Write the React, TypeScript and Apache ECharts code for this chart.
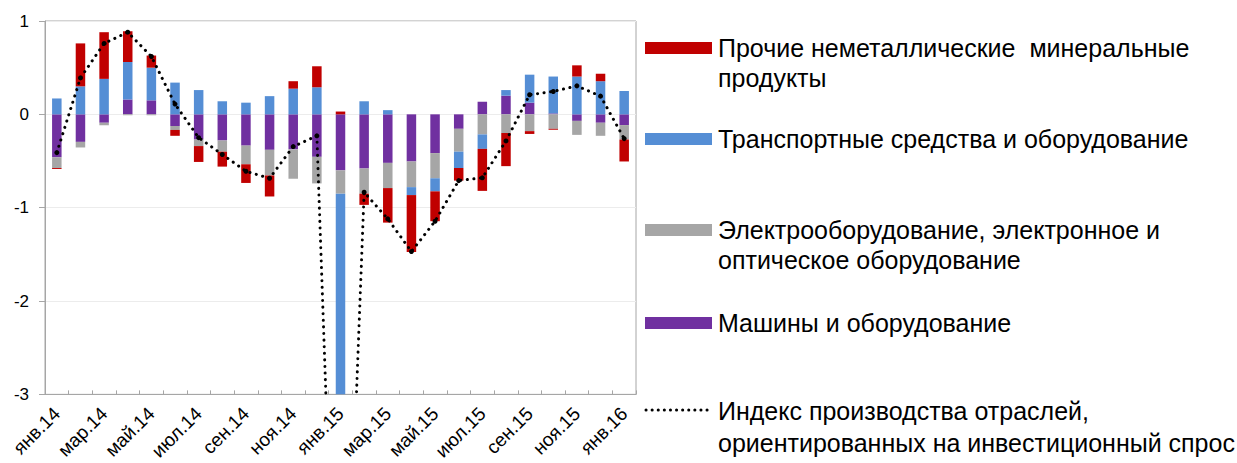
import React, { useEffect, useRef } from "react";
import * as echarts from "echarts";

// Months, Jan 2014 – Jan 2016
const categories = [
  "янв.14", "фев.14", "мар.14", "апр.14", "май.14", "июн.14", "июл.14", "авг.14",
  "сен.14", "окт.14", "ноя.14", "дек.14", "янв.15", "фев.15", "мар.15", "апр.15",
  "май.15", "июн.15", "июл.15", "авг.15", "сен.15", "окт.15", "ноя.15", "дек.15", "янв.16",
];

// Contributions, percentage points
const machinery = [
  -0.46, -0.295, -0.09, 0.16, 0.15, -0.125, -0.27, -0.28, -0.335, -0.38, -0.375, -0.455,
  -0.6, -0.58, -0.52, -0.505, -0.415, -0.155, 0.135, 0.2, 0.125, 0.01, -0.07, -0.09, -0.115,
];
const electrical = [
  -0.115, -0.06, -0.027, -0.01, -0.01, -0.042, -0.07, -0.12, -0.2, -0.275, -0.315, -0.285,
  -0.25, -0.27, -0.27, -0.275, -0.27, -0.245, -0.215, -0.2, -0.18, -0.155, -0.15, -0.14, -0.155,
];
const transport = [
  0.17, 0.3, 0.38, 0.4, 0.35, 0.34, 0.26, 0.14, 0.125, 0.195, 0.275, 0.29,
  -5.5, 0.14, 0.045, -0.085, -0.14, -0.175, -0.155, 0.06, 0.3, 0.395, 0.405, 0.355, 0.25,
];
const nonMetallic = [
  -0.01, 0.46, 0.5, 0.33, 0.13, -0.063, -0.17, -0.16, -0.2, -0.225, 0.08, 0.225,
  0.03, -0.12, -0.37, -0.61, -0.32, -0.135, -0.45, -0.355, -0.03, -0.01, 0.12, 0.08, -0.235,
];
const productionIndex = [
  -0.41, 0.39, 0.76, 0.88, 0.62, 0.11, -0.25, -0.43, -0.61, -0.685, -0.345, -0.23,
  -7.5, -0.835, -1.12, -1.47, -1.145, -0.71, -0.68, -0.285, 0.21, 0.245, 0.305, 0.195, -0.26,
];

const yTicks = [-3, -2, -1, 0, 1];

const NAMES = {
  nonMetallic: "Прочие неметаллические  минеральные\nпродукты",
  transport: "Транспортные средства и оборудование",
  electrical: "Электрооборудование, электронное и\nоптическое оборудование",
  machinery: "Машины и оборудование",
  index: "Индекс производства отраслей,\nориентированных на инвестиционный спрос",
};

const COLORS = {
  nonMetallic: "#C00000",
  transport: "#558ED5",
  electrical: "#A6A6A6",
  machinery: "#7030A0",
};

const FONT = "'Liberation Sans', Arial, sans-serif";

export default function App() {
  const ref = useRef<HTMLDivElement>(null);

  useEffect(() => {
    document.body.style.margin = "0";
    if (!ref.current) return;
    const chart = echarts.init(ref.current, undefined, { renderer: "svg" });

    const bar = (name: string, data: number[], color: string) => ({
      name,
      type: "bar",
      stack: "total",
      data,
      barWidth: 9.5,
      itemStyle: { color },
    });

    const legendItems = [
      { key: "nonMetallic", y: 48 },
      { key: "transport", y: 139 },
      { key: "electrical", y: 230 },
      { key: "machinery", y: 323 },
    ];

    const graphic: any[] = [];
    legendItems.forEach((it) => {
      const key = it.key as keyof typeof COLORS;
      graphic.push({
        type: "rect",
        shape: { x: 645, y: it.y - 6, width: 67, height: 12 },
        style: { fill: COLORS[key] },
      });
      graphic.push({
        type: "text",
        x: 718,
        y: it.y - 15,
        style: {
          text: NAMES[key],
          font: `25px ${FONT}`,
          fill: "#000",
          lineHeight: 30,
          textVerticalAlign: "top",
        },
      });
    });
    graphic.push({
      type: "line",
      shape: { x1: 646, y1: 410, x2: 711, y2: 410 },
      style: { stroke: "#000", lineWidth: 3, lineDash: [0.1, 6], lineCap: "round" },
    });
    graphic.push({
      type: "text",
      x: 718,
      y: 395,
      style: {
        text: NAMES.index,
        font: `25px ${FONT}`,
        fill: "#000",
        lineHeight: 32,
        textVerticalAlign: "top",
      },
    });

    chart.setOption({
      animation: false,
      backgroundColor: "#fff",
      textStyle: { fontFamily: FONT },
      grid: {
        left: 45,
        right: 601,
        top: 21,
        bottom: 67,
        show: true,
        borderColor: "#a6a6a6",
        borderWidth: 1,
      },
      xAxis: {
        type: "category",
        data: categories,
        boundaryGap: true,
        axisLine: { show: true, onZero: false, lineStyle: { color: "#a6a6a6" } },
        axisTick: { show: true, inside: true, length: 4, interval: 0, lineStyle: { color: "#a6a6a6" } },
        axisLabel: {
          interval: 1,
          rotate: 45,
          fontSize: 19,
          color: "#000",
          margin: 16,
          fontFamily: FONT,
        },
        splitLine: { show: false },
      },
      yAxis: {
        type: "value",
        min: yTicks[0],
        max: yTicks[yTicks.length - 1],
        interval: 1,
        axisLine: { show: true, lineStyle: { color: "#a6a6a6" } },
        axisTick: { show: true, length: 6, lineStyle: { color: "#a6a6a6" } },
        axisLabel: { fontSize: 17, color: "#000", margin: 16, fontFamily: FONT },
        splitLine: { show: true, lineStyle: { color: "#ececec" } },
      },
      series: [
        bar(NAMES.machinery, machinery, COLORS.machinery),
        bar(NAMES.electrical, electrical, COLORS.electrical),
        bar(NAMES.transport, transport, COLORS.transport),
        bar(NAMES.nonMetallic, nonMetallic, COLORS.nonMetallic),
        {
          name: NAMES.index,
          type: "line",
          data: productionIndex,
          clip: true,
          symbol: "circle",
          symbolSize: 5,
          itemStyle: { color: "#000" },
          lineStyle: { color: "#000", width: 3, type: [0.1, 6.5], cap: "round" },
          z: 5,
        },
      ],
      graphic,
    });

    return () => chart.dispose();
  }, []);

  return <div ref={ref} style={{ width: 1237, height: 463 }} />;
}
